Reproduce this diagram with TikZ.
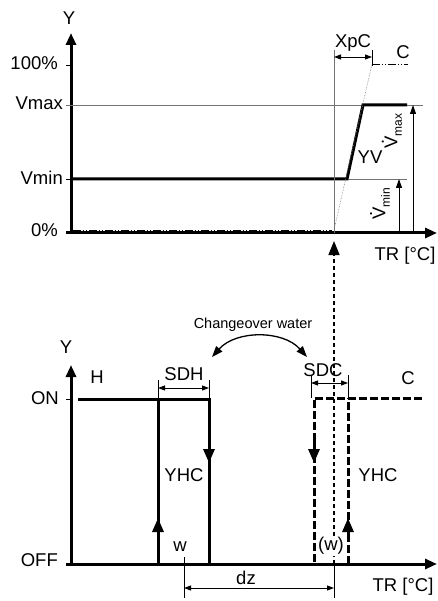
\documentclass[tikz,border=0pt]{standalone}
\usepackage{fontspec}
\setmainfont{Liberation Sans}
\usetikzlibrary{arrows.meta}
\newcommand\dotV{\leavevmode\rlap{\hspace{0.2em}\raisebox{0.72em}{.}}V}
\begin{document}
\begin{tikzpicture}[x=1pt,y=-1pt,
  lbl/.style={inner sep=0pt,font=\fontsize{18.5}{19}\selectfont},
  thickline/.style={line width=3pt},
  axisline/.style={line width=3pt,-{Triangle[length=12pt,width=10pt]}},
  thinline/.style={line width=0.9pt},
  grayline/.style={line width=0.9pt,black!55},
  dimline/.style={line width=0.9pt,{Triangle[length=7pt,width=5pt]}-{Triangle[length=7pt,width=5pt]}},
  uparrow/.style={line width=0.9pt,-{Triangle[length=9pt,width=6pt]}},
  midhead/.style={-{Triangle[length=14pt,width=11pt]}},
  thickdash/.style={line width=3pt,dash pattern=on 8pt off 3pt},
  thindash/.style={line width=1.5pt,dash pattern=on 4.5pt off 2.5pt},
  dashdotdot/.style={line width=0.9pt,dash pattern=on 8pt off 2pt on 1pt off 2pt on 1pt off 2pt}]
\useasboundingbox (0,0) rectangle (438,601);
% ---------------- top chart ----------------
\coordinate (TO) at (71,233);
\coordinate (TYtop) at (71,33);
\coordinate (TXs) at (66,233);
\coordinate (TXend) at (437,233);
\draw[axisline] (TO) -- (TYtop);
\draw[axisline] (TXs) -- (TXend);
\coordinate (P100) at (66,65);
\coordinate (Vmaxa) at (66,105);
\coordinate (Vmaxb) at (423,105);
\coordinate (Vmina) at (66,179);
\coordinate (Vminb) at (347,179);
\coordinate (Vminc) at (407,179);
\coordinate (Rtop) at (363,105);
\coordinate (Rend) at (407,105);
\draw[thinline] (P100) -- (71,65);
\draw[grayline] (Vmaxa) -- (Vmaxb);
\draw[grayline] (Vminb) -- (Vminc);
\draw[thinline] (Vmina) -- (71,179);
\draw[thickline] (71,179) -- (Vminb) -- (Rtop) -- (Rend);
\coordinate (Gtop) at (334,50);
\coordinate (Gbot) at (334,233);
\draw[grayline] (Gtop) -- (Gbot);
\coordinate (D0) at (334,230);
\coordinate (DC) at (372,64);
\coordinate (DCend) at (408,64);
\draw[black!50,line width=0.6pt,densely dotted] (D0) -- (DC);
\draw[dashdotdot] (DC) -- (DCend);
\draw[dashdotdot] (73,230) -- (332,230);
\coordinate (XpA) at (334,57);
\coordinate (XpB) at (372,57);
\draw[dimline] (XpA) -- (XpB);
\draw[thinline] (372,50) -- (372,66);
\coordinate (VmaxArr0) at (413,233);
\coordinate (VmaxArr1) at (413,105);
\draw[uparrow] (VmaxArr0) -- (VmaxArr1);
\coordinate (VminArr0) at (399,233);
\coordinate (VminArr1) at (399,179);
\draw[uparrow] (VminArr0) -- (VminArr1);
\node[lbl] (ty) at (69,18) {Y};
\node[lbl,anchor=east] (t100) at (58,63) {100\%};
\node[lbl,anchor=east] (tvmax) at (63,103) {Vmax};
\node[lbl,anchor=east] (tvmin) at (63,178) {Vmin};
\node[lbl,anchor=east] (t0) at (58,230) {0\%};
\node[lbl] (ttr) at (405,256) {TR [°C]};
\node[lbl] (txpc) at (353,43) {XpC};
\node[lbl] (tc) at (403,52) {C};
\node[lbl] (tyv) at (370,157) {YV};
\node[lbl,rotate=90] (tvdmax) at (392,131) {\dotV\raisebox{-0.25em}{\fontsize{12}{13}\selectfont max}};
\node[lbl,rotate=90] (tvdmin) at (380,204) {\dotV\raisebox{-0.25em}{\fontsize{12}{13}\selectfont min}};
% ---------------- bottom chart ----------------
\coordinate (BO) at (71,564);
\coordinate (BYtop) at (71,365);
\coordinate (BXs) at (66,564);
\coordinate (BXend) at (437,564);
\draw[axisline] (BO) -- (BYtop);
\draw[axisline] (BXs) -- (BXend);
\draw[thinline] (66,399) -- (71,399);
% heating
\coordinate (H0) at (78,399);
\coordinate (H1) at (158,399);
\coordinate (H2) at (209,399);
\coordinate (H1b) at (158,564);
\coordinate (H2b) at (209,564);
\draw[thickline] (H0) -- (H2) -- (H2b);
\draw[thickline] (H1b) -- (H1);
\draw[thickline,midhead] (H1b) -- (158,518);
\draw[thickline,midhead] (H2) -- (209,463);
% cooling
\coordinate (C0) at (422,398);
\coordinate (C1) at (314,398);
\coordinate (C1b) at (314,564);
\coordinate (C2b) at (348,564);
\coordinate (C2) at (348,398);
\draw[thickdash] (C0) -- (C1) -- (C1b) -- (C2b) -- (C2);
\draw[line width=3pt,midhead] (314,440) -- (314,463);
\draw[line width=3pt,midhead] (348,540) -- (348,518);
% link dashed arrow
\coordinate (Lb) at (334,564);
\coordinate (Lt) at (334,241);
\draw[thindash] (Lb) -- (334,252);
\draw[line width=1.5pt,midhead] (334,254) -- (Lt);
% dimensions
\draw[dimline] (H1 |- 0,388) -- (H2 |- 0,388);
\draw[thinline] (158,380) -- (H1);
\draw[thinline] (209,380) -- (H2);
\coordinate (SDCa) at (311,383);
\coordinate (SDCb) at (348,383);
\draw[dimline] (SDCa) -- (SDCb);
\draw[thinline] (311,375) -- (311,398);
\draw[thinline] (348,375) -- (348,398);
\coordinate (dzA) at (184,588);
\coordinate (dzB) at (334,588);
\draw[dimline] (dzA) -- (dzB);
\draw[thinline] (184,557) -- (184,598);
\draw[thinline] (334,564) -- (334,598);
% changeover arc
\coordinate (ArcL) at (212,357);
\coordinate (ArcR) at (307,357);
\draw[line width=1.3pt,{Triangle[length=11pt,width=8pt]}-{Triangle[length=11pt,width=8pt]}] (ArcL) .. controls (236,330) and (283,330) .. (ArcR);
% labels
\node[lbl] (by) at (66,347) {Y};
\node[lbl] (bh) at (97,377) {H};
\node[lbl,anchor=east] (bon) at (59,398) {ON};
\node[lbl,anchor=east] (boff) at (58,560) {OFF};
\node[lbl] (bsdh) at (184,374) {SDH};
\node[lbl] (byhc1) at (184,475) {YHC};
\node[lbl] (bw) at (180,547) {w};
\node[inner sep=0pt,font=\fontsize{14.5}{15}\selectfont] (bchg) at (253,325) {Changeover water};
\node[lbl] (bsdc) at (323,370) {SDC};
\node[lbl] (bc) at (408,378) {C};
\node[lbl] (byhc2) at (378,475) {YHC};
\node[lbl,fill=white,inner sep=1pt] (bww) at (331,546) {(w)};
\node[lbl] (bdz) at (246,578) {dz};
\node[lbl] (btr) at (403,587) {TR [°C]};
\end{tikzpicture}
\end{document}
